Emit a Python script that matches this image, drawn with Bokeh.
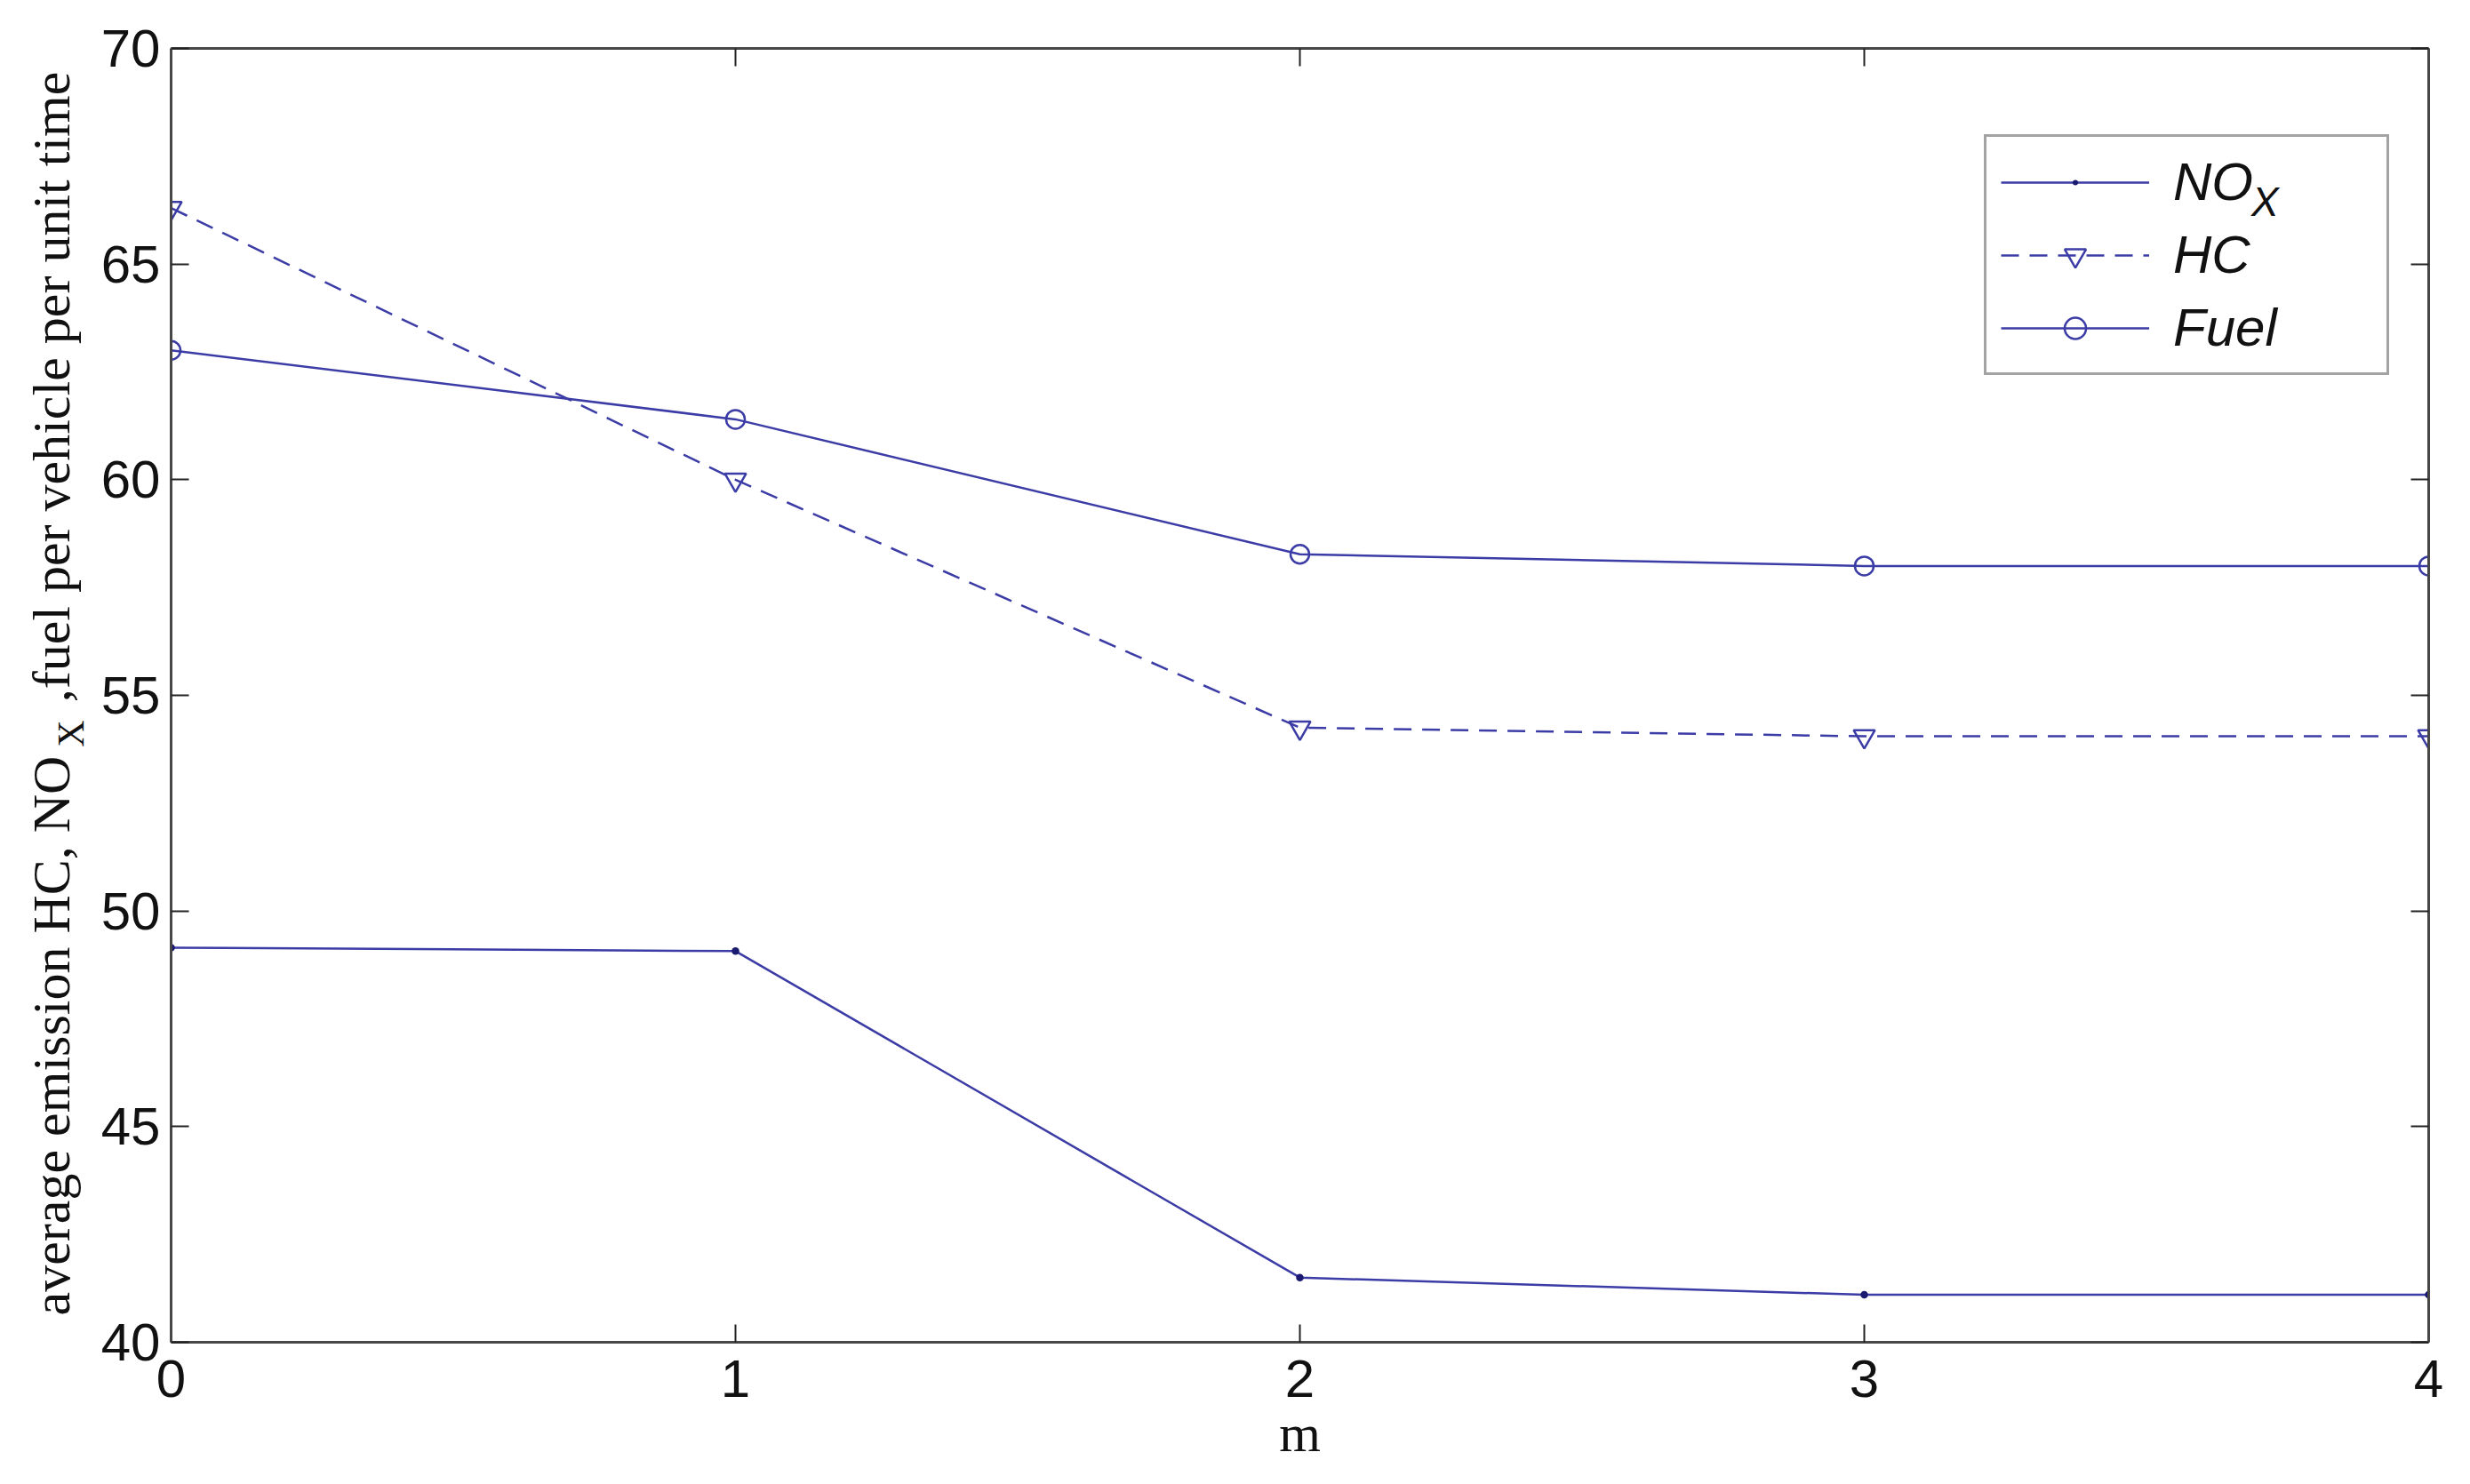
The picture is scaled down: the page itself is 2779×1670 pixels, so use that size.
from bokeh.plotting import figure
from bokeh.models import Range1d, LinearAxis, Legend, LegendItem, FixedTicker
from bokeh.embed import file_html
from bokeh.resources import INLINE

# ---- data ----
m_values = [0, 1, 2, 3, 4]
nox = [49.15, 49.07, 41.5, 41.1, 41.1]
hc = [66.3, 60.0, 54.25, 54.05, 54.05]
fuel = [63.0, 61.4, 58.27, 58.0, 58.0]
x_ticks = [0, 1, 2, 3, 4]
y_ticks = [40, 45, 50, 55, 60, 65, 70]
legend_labels = ["NO", "HC", "Fuel"]
legend_sub = "X"
x_title = "m"
y_title_parts = ["average emission HC, NO", "X", ",fuel per vehicle per unit time"]

# ---- style / layout constants ----
LINE = "#3c3ca6"
DARK = "#1a1a70"
AXIS = "#474747"
FRAME_PX = 1456                      # frame height in px, used to place the y-title pieces
TITLE_POS = [345, 685, 1075]         # px from frame bottom: part1 centre, subscript, part3 centre

p = figure(width=2779, height=1670, output_backend="svg", toolbar_location=None,
           x_range=Range1d(0, 4), y_range=Range1d(40, 70),
           min_border_left=192, min_border_right=47, min_border_top=54, min_border_bottom=160)
p.outline_line_color = None
p.grid.visible = False
p.background_fill_color = "white"
p.border_fill_color = "white"
p.extra_y_ranges = {"title_px": Range1d(0, FRAME_PX)}

bottom_ax = p.below[0]
left_ax = p.left[0]
bottom_ax.ticker = FixedTicker(ticks=x_ticks)
left_ax.ticker = FixedTicker(ticks=y_ticks)
top_ax = LinearAxis(ticker=FixedTicker(ticks=x_ticks))
right_ax = LinearAxis(ticker=FixedTicker(ticks=y_ticks))
p.add_layout(top_ax, "above")
p.add_layout(right_ax, "right")

for ax in [bottom_ax, left_ax, top_ax, right_ax]:
    ax.axis_line_color = AXIS
    ax.axis_line_width = 3
    ax.major_tick_in = 20
    ax.major_tick_out = 0
    ax.major_tick_line_color = "#222222"
    ax.major_tick_line_width = 2
    ax.minor_tick_line_color = None
    ax.major_label_text_font = "Liberation Sans"
    ax.major_label_text_font_size = "60px"
    ax.major_label_text_color = "#111111"
    ax.major_label_standoff = 12
for ax in [top_ax, right_ax]:
    ax.major_label_text_font_size = "0px"
    ax.major_label_standoff = 0
bottom_ax.major_label_standoff = 20

bottom_ax.axis_label = x_title
bottom_ax.axis_label_text_font = "Liberation Serif"
bottom_ax.axis_label_text_font_style = "normal"
bottom_ax.axis_label_text_font_size = "60px"
bottom_ax.axis_label_text_color = "#111111"
bottom_ax.axis_label_standoff = 5

# y title built from rotated labels of two extra (line-less) left axes, to get the subscript
sub_ax = LinearAxis(y_range_name="title_px", ticker=FixedTicker(ticks=[TITLE_POS[1]]),
                    major_label_overrides={TITLE_POS[1]: y_title_parts[1]})
title_ax = LinearAxis(y_range_name="title_px", ticker=FixedTicker(ticks=[TITLE_POS[0], TITLE_POS[2]]),
                      major_label_overrides={TITLE_POS[0]: y_title_parts[0],
                                             TITLE_POS[2]: y_title_parts[2]})
for ax, size, standoff in [(sub_ax, "42px", 8), (title_ax, "60px", -37)]:
    ax.axis_line_color = None
    ax.major_tick_line_color = None
    ax.minor_tick_line_color = None
    ax.major_tick_in = 0
    ax.major_tick_out = 0
    ax.major_label_orientation = "vertical"
    ax.major_label_text_font = "Liberation Serif"
    ax.major_label_text_font_size = size
    ax.major_label_text_color = "#111111"
    ax.major_label_standoff = standoff
p.add_layout(sub_ax, "left")
p.add_layout(title_ax, "left")

r_nox = p.line(m_values, nox, line_color=LINE, line_width=2.5)
r_nox_m = p.scatter(m_values, nox, marker="dot", size=34, fill_color=DARK, line_color=DARK)
r_hc = p.line(m_values, hc, line_color=LINE, line_width=2.5, line_dash="20 12")
r_hc_m = p.scatter(m_values, hc, marker="inverted_triangle", size=24, fill_color=None,
                   line_color=LINE, line_width=2.5)
r_fuel = p.line(m_values, fuel, line_color=LINE, line_width=2.5)
r_fuel_m = p.scatter(m_values, fuel, marker="circle", size=21, fill_color=None,
                     line_color=LINE, line_width=2.5)

legend = Legend(items=[LegendItem(label=legend_labels[0], renderers=[r_nox, r_nox_m]),
                       LegendItem(label=legend_labels[1], renderers=[r_hc, r_hc_m]),
                       LegendItem(label=legend_labels[2], renderers=[r_fuel, r_fuel_m])],
                location=(2040, 1088))
legend.label_text_font = "Liberation Sans"
legend.label_text_font_style = "italic"
legend.label_text_font_size = "60px"
legend.label_text_color = "#111111"
legend.glyph_width = 167
legend.glyph_height = 60
legend.label_height = 60
legend.label_width = 224
legend.label_standoff = 27
legend.padding = 16
legend.spacing = 13
legend.margin = 0
legend.border_line_color = AXIS
legend.border_line_width = 3
legend.background_fill_color = "white"
legend.background_fill_alpha = 1
p.add_layout(legend)

# subscript X of "NO" in the legend: a second, frameless legend with an invisible glyph
r_blank = p.scatter(x=[], y=[], alpha=0)
sub_legend = Legend(items=[LegendItem(label=legend_sub, renderers=[r_blank])],
                    location=(2340, 1256))
sub_legend.label_text_font = "Liberation Sans"
sub_legend.label_text_font_style = "italic"
sub_legend.label_text_font_size = "46px"
sub_legend.label_text_color = "#111111"
sub_legend.glyph_width = 1
sub_legend.glyph_height = 1
sub_legend.label_height = 1
sub_legend.label_width = 1
sub_legend.label_standoff = 0
sub_legend.padding = 0
sub_legend.spacing = 0
sub_legend.margin = 0
sub_legend.border_line_color = None
sub_legend.background_fill_alpha = 0
p.add_layout(sub_legend)

open("out.html", "w").write(file_html(p, INLINE))
